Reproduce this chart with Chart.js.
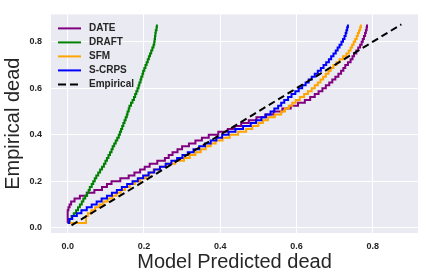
<!DOCTYPE html>
<html>
<head>
<meta charset="utf-8">
<script src="https://cdn.jsdelivr.net/npm/chart.js@4/dist/chart.umd.min.js"></script>
<style>
  html, body { margin: 0; padding: 0; background: #ffffff; }
  #wrap { width: 424px; height: 280px; }
</style>
</head>
<body>
<div id="wrap"><canvas id="calibrationChart" width="424" height="280"></canvas></div>
<script>
// empirical levels (y) shared by every model curve
const levels = [0.02, 0.0375, 0.05, 0.0625, 0.075, 0.0875, 0.1, 0.1125,
                0.125, 0.1375, 0.15, 0.1625, 0.175, 0.1875, 0.2, 0.2125,
                0.225, 0.2375, 0.25, 0.2625, 0.275, 0.2875, 0.3, 0.3125,
                0.325, 0.3375, 0.35, 0.3625, 0.375, 0.3875, 0.4, 0.4125,
                0.425, 0.4375, 0.45, 0.4625, 0.475, 0.4875, 0.5, 0.5125,
                0.525, 0.5375, 0.55, 0.5625, 0.575, 0.5875, 0.6, 0.6125,
                0.625, 0.6375, 0.65, 0.6625, 0.675, 0.6875, 0.7, 0.7125,
                0.725, 0.7375, 0.75, 0.7625, 0.775, 0.7875, 0.8, 0.8125,
                0.825, 0.8375, 0.85, 0.8625, 0.875];

// model predicted value at each level
const dateX = [0.0, 0.0, 0.0, 0.0, 0.0, 0.002, 0.005, 0.009,
               0.018, 0.032, 0.050, 0.070, 0.090, 0.103, 0.115, 0.138,
               0.160, 0.175, 0.190, 0.202, 0.215, 0.235, 0.255, 0.265,
               0.275, 0.288, 0.300, 0.318, 0.335, 0.352, 0.370, 0.395,
               0.420, 0.438, 0.455, 0.475, 0.495, 0.518, 0.540, 0.563,
               0.585, 0.604, 0.622, 0.636, 0.648, 0.658, 0.668, 0.677,
               0.686, 0.694, 0.702, 0.710, 0.717, 0.723, 0.728, 0.735,
               0.742, 0.747, 0.751, 0.757, 0.762, 0.767, 0.771, 0.774,
               0.777, 0.780, 0.782, 0.784, 0.785];
const draftX = [0.0, 0.005, 0.010, 0.016, 0.022, 0.027, 0.032, 0.037,
                0.041, 0.046, 0.051, 0.055, 0.058, 0.063, 0.067, 0.071,
                0.075, 0.080, 0.085, 0.090, 0.095, 0.099, 0.103, 0.107,
                0.111, 0.115, 0.118, 0.122, 0.126, 0.130, 0.134, 0.137,
                0.140, 0.143, 0.146, 0.149, 0.152, 0.155, 0.157, 0.160,
                0.162, 0.166, 0.170, 0.174, 0.177, 0.180, 0.183, 0.186,
                0.188, 0.191, 0.193, 0.196, 0.198, 0.201, 0.204, 0.207,
                0.210, 0.213, 0.216, 0.219, 0.222, 0.225, 0.227, 0.228,
                0.229, 0.230, 0.231, 0.233, 0.234];
const sfmX = [0.0, 0.048, 0.048, 0.053, 0.062, 0.072, 0.083, 0.094,
              0.105, 0.117, 0.128, 0.139, 0.150, 0.163, 0.176, 0.190,
              0.205, 0.215, 0.225, 0.242, 0.258, 0.282, 0.305, 0.320,
              0.335, 0.349, 0.362, 0.375, 0.388, 0.406, 0.425, 0.447,
              0.468, 0.484, 0.500, 0.512, 0.525, 0.543, 0.560, 0.570,
              0.580, 0.589, 0.598, 0.609, 0.620, 0.630, 0.640, 0.648,
              0.656, 0.663, 0.670, 0.677, 0.684, 0.690, 0.697, 0.705,
              0.713, 0.722, 0.731, 0.737, 0.742, 0.746, 0.750, 0.754,
              0.758, 0.761, 0.764, 0.767, 0.769];
const scrpsX = [0.0, 0.004, 0.012, 0.024, 0.036, 0.050, 0.063, 0.076,
                0.089, 0.103, 0.116, 0.129, 0.142, 0.156, 0.170, 0.184,
                0.198, 0.212, 0.227, 0.242, 0.257, 0.272, 0.287, 0.301,
                0.315, 0.330, 0.345, 0.360, 0.375, 0.390, 0.405, 0.422,
                0.440, 0.460, 0.480, 0.494, 0.508, 0.520, 0.532, 0.542,
                0.552, 0.560, 0.568, 0.578, 0.587, 0.597, 0.606, 0.615,
                0.624, 0.632, 0.640, 0.648, 0.656, 0.664, 0.671, 0.678,
                0.685, 0.691, 0.697, 0.703, 0.708, 0.713, 0.718, 0.722,
                0.726, 0.729, 0.731, 0.733, 0.735];
const empiricalEnds = [0.01, 0.875];

const tickValues = [0.0, 0.2, 0.4, 0.6, 0.8];
const seriesNames = ['DATE', 'DRAFT', 'SFM', 'S-CRPS', 'Empirical'];
const seriesColours = ['#800080', '#008000', '#FFA500', '#0000FF', '#000000'];

function toPoints(xs) {
    return xs.map((x, i) => ({ x: x, y: levels[i] }));
}

const bgPlugin = {
    id: 'darkgridBg',
    beforeDraw(chart) {
        const a = chart.chartArea;
        const ctx = chart.ctx;
        ctx.save();
        ctx.fillStyle = '#EAEAF2';
        ctx.fillRect(a.left, a.top, a.right - a.left, a.bottom - a.top);
        ctx.restore();
    }
};

// legend drawn inside the plot, upper left, no frame
const innerLegend = {
    id: 'innerLegend',
    afterDatasetsDraw(chart) {
        const a = chart.chartArea;
        const ctx = chart.ctx;
        ctx.save();
        ctx.font = 'bold 10px "Liberation Sans", Arial, sans-serif';
        ctx.textBaseline = 'middle';
        ctx.lineCap = 'butt';
        seriesNames.forEach((name, i) => {
            const y = a.top + 14 + i * 14;
            ctx.strokeStyle = seriesColours[i];
            ctx.lineWidth = 2;
            ctx.setLineDash(name === 'Empirical' ? [8, 4] : []);
            ctx.beginPath();
            ctx.moveTo(a.left + 7, y);
            ctx.lineTo(a.left + 30, y);
            ctx.stroke();
            ctx.fillStyle = '#262626';
            ctx.fillText(name, a.left + 38, y);
        });
        ctx.restore();
    }
};

Chart.defaults.font.family = '"Liberation Sans", Arial, sans-serif';

const lineSets = [dateX, draftX, sfmX, scrpsX].map((xs, i) => ({
    label: seriesNames[i],
    data: toPoints(xs),
    borderColor: seriesColours[i],
    borderWidth: 2,
    stepped: 'before',
    pointRadius: 0,
    showLine: true,
    fill: false,
    order: 4 - i
}));

lineSets.push({
    label: 'Empirical',
    data: empiricalEnds.map(v => ({ x: v, y: v })),
    borderColor: '#000000',
    borderWidth: 2,
    borderDash: [7, 4],
    pointRadius: 0,
    showLine: true,
    fill: false,
    order: 0
});

function fixedTicks(scale) {
    scale.ticks = tickValues.map(v => ({ value: v }));
}

new Chart(document.getElementById('calibrationChart'), {
    type: 'scatter',
    data: { datasets: lineSets },
    options: {
        responsive: false,
        animation: false,
        devicePixelRatio: 1,
        layout: { padding: { top: 6, right: 6, left: 0, bottom: 0 } },
        plugins: { legend: { display: false }, tooltip: { enabled: false } },
        scales: {
            x: {
                type: 'linear',
                min: -0.04375,
                max: 0.91875,
                afterBuildTicks: fixedTicks,
                afterFit(s) { s.height = 47; },
                grid: { color: '#ffffff', lineWidth: 1, drawTicks: false },
                border: { display: false },
                ticks: {
                    padding: 8,
                    color: '#262626',
                    font: { size: 9, weight: 'bold' },
                    callback: v => v.toFixed(1)
                },
                title: {
                    display: true,
                    text: 'Model Predicted dead',
                    color: '#262626',
                    font: { size: 20 },
                    padding: { top: 0, bottom: 6 }
                }
            },
            y: {
                type: 'linear',
                min: -0.023,
                max: 0.918,
                afterBuildTicks: fixedTicks,
                afterFit(s) { s.width = 51; },
                grid: { color: '#ffffff', lineWidth: 1, drawTicks: false },
                border: { display: false },
                ticks: {
                    padding: 9,
                    color: '#262626',
                    font: { size: 9, weight: 'bold' },
                    callback: v => v.toFixed(1)
                },
                title: {
                    display: true,
                    text: 'Empirical dead',
                    color: '#262626',
                    font: { size: 20 },
                    padding: { top: 1, bottom: 0 }
                }
            }
        }
    },
    plugins: [bgPlugin, innerLegend]
});
</script>
</body>
</html>
